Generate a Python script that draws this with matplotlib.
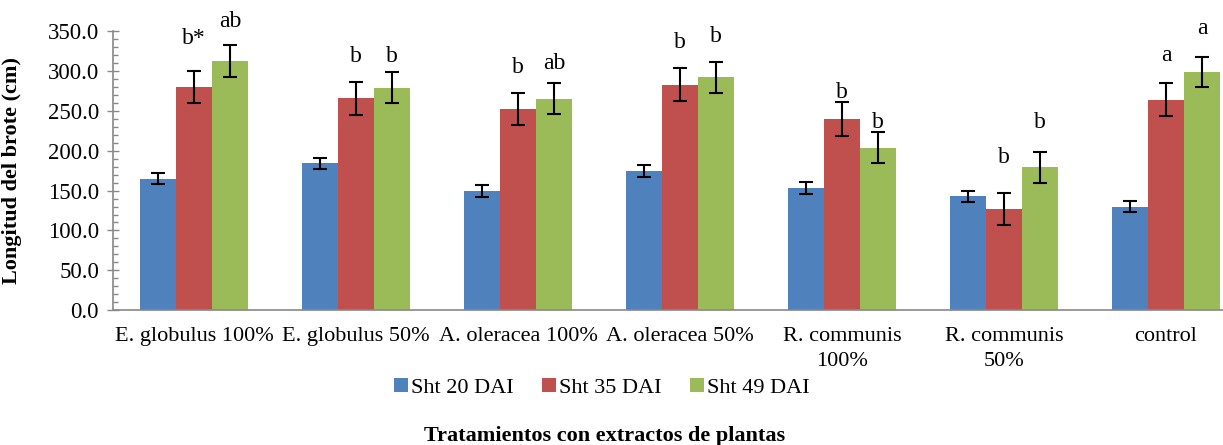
import matplotlib.pyplot as plt
from matplotlib.ticker import MultipleLocator, FormatStrFormatter
import numpy as np

plt.rcParams['font.family'] = ['Liberation Serif', 'DejaVu Serif']

categories = ['E. globulus 100%', 'E. globulus 50%', 'A. oleracea 100%',
              'A. oleracea 50%', 'R. communis\n100%', 'R. communis\n50%', 'control']
series = ['Sht 20 DAI', 'Sht 35 DAI', 'Sht 49 DAI']
sht20 = [165, 184, 150, 174, 153, 143, 130]
sht35 = [280, 266, 252, 283, 240, 127, 264]
sht49 = [312, 279, 265, 292, 204, 179, 299]
err20 = [7, 7.5, 7.5, 7.5, 7.3, 7, 7.3]
err35 = [20.5, 20.6, 20, 20.6, 21, 20.6, 20.8]
err49 = [20, 19.5, 19.4, 19, 19, 19, 19]
letters35 = ['b*', 'b', 'b', 'b', 'b', 'b', 'a']
letters49 = ['ab', 'b', 'ab', 'b', 'b', 'b', 'a']
# letter baselines
lab_y35 = [334, 311, 298, 329, 266, 184, 312]
lab_y49 = [355, 311, 302, 337, 228, 228, 347]

colors = ['#4f81bd', '#c0504d', '#9bbb59']

fig = plt.figure(figsize=(12.23, 4.45), dpi=100)
ax = fig.add_axes([113 / 1223, 0.303, 1134 / 1223, 0.627])

x = np.arange(len(categories))
w = 0.222
vals = [sht20, sht35, sht49]
errs = [err20, err35, err49]
for i in range(3):
    ax.bar(x + (i - 1) * w, vals[i], width=w, color=colors[i], label=series[i],
           yerr=errs[i], capsize=5, error_kw=dict(elinewidth=1.5, capthick=1.5, ecolor='black'))

for j in range(len(categories)):
    ax.text(x[j], lab_y35[j], letters35[j], ha='center', va='baseline', fontsize=17, clip_on=False)
    ax.text(x[j] + w, lab_y49[j], letters49[j], ha='center', va='baseline', fontsize=17, clip_on=False)

ax.set_xlim(-0.5, len(categories) - 0.5)
ax.set_ylim(0, 350)
ax.yaxis.set_major_locator(MultipleLocator(50))
ax.yaxis.set_minor_locator(MultipleLocator(10))
ax.yaxis.set_major_formatter(FormatStrFormatter('%.1f'))
ax.tick_params(axis='y', which='major', direction='inout', length=8, width=1, color='#888888',
               labelsize=16.5, pad=6)
ax.tick_params(axis='y', which='minor', direction='in', length=3.6, width=1, color='#888888')
ax.tick_params(axis='x', length=0, labelsize=16, pad=12)
ax.set_xticks(x)
ax.set_xticklabels(categories, linespacing=1.45)
for s in ['top', 'right']:
    ax.spines[s].set_visible(False)
for s in ['left', 'bottom']:
    ax.spines[s].set_color('#888888')
    ax.spines[s].set_linewidth(1.2)

ax.set_ylabel('Longitud del brote (cm)', fontsize=16, fontweight='bold')
ax.yaxis.set_label_coords(-0.0802, 0.5)

leg = fig.legend(loc='center', bbox_to_anchor=(602 / 1223, 1 - 388 / 445), ncol=3, frameon=False,
                 fontsize=16, handlelength=0.6, handleheight=0.6, handletextpad=0.15, columnspacing=1.3,
                 borderpad=0)
fig.text(605 / 1223, 1 - 436 / 445, 'Tratamientos con extractos de plantas', ha='center', va='center',
         fontsize=16, fontweight='bold')

fig.savefig('out.png', dpi=100)
